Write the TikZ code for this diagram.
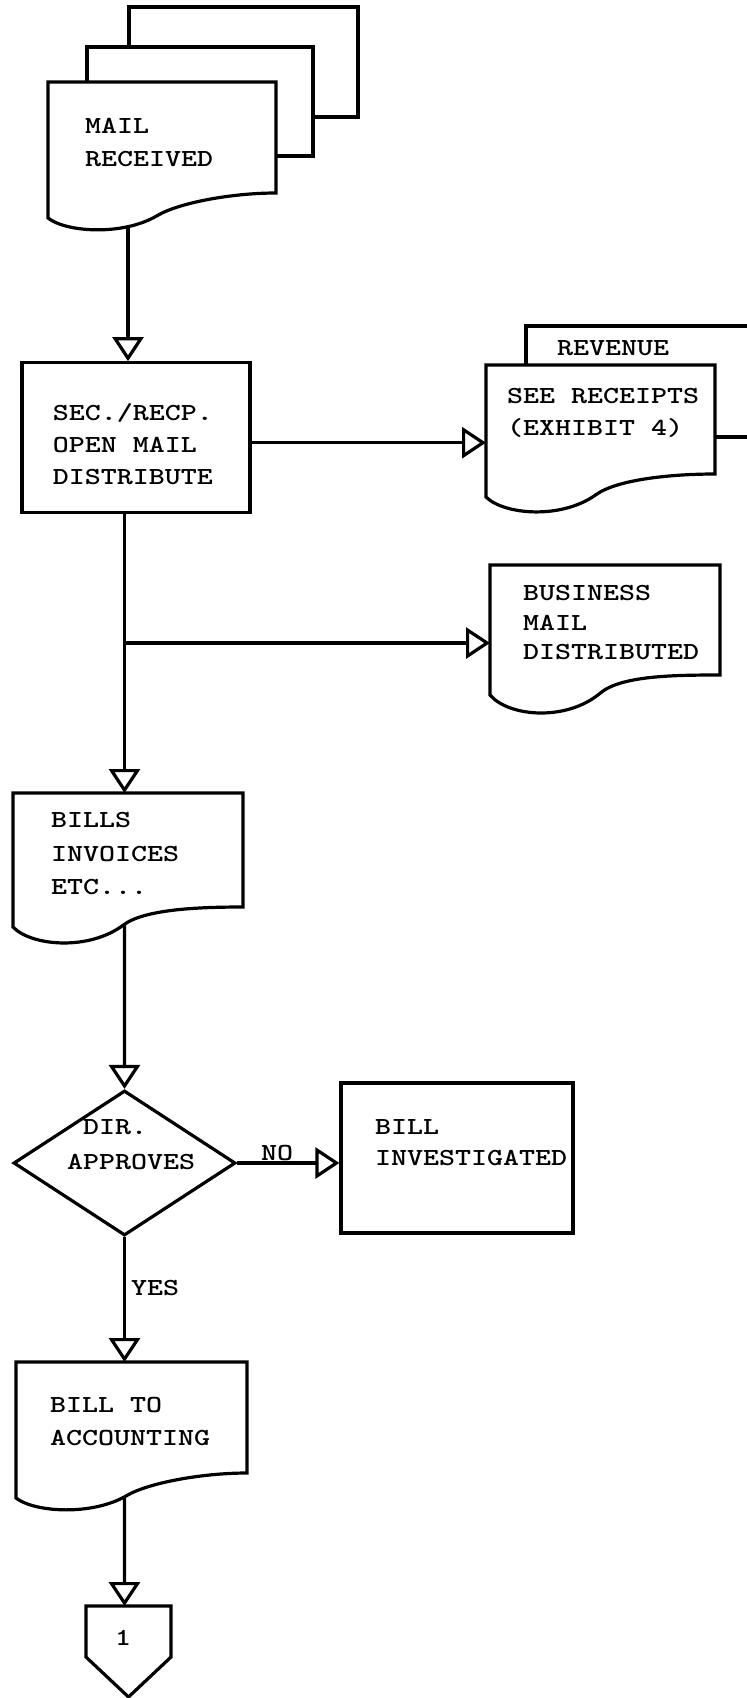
\documentclass[tikz,border=0pt]{standalone}
\usetikzlibrary{arrows.meta,shapes.geometric,intersections}

% typewriter text block, first baseline at the node's base; #1 = line spacing
\newcommand\twtext[2]{\scalebox{1.244}[1]{\fontsize{24.5}{#1}\selectfont\ttfamily\bfseries\begin{tabular}[t]{@{}l@{}}#2\end{tabular}}}

% document symbol: flat top, wavy bottom
% #1 left, #2 top, #3 right, #4 right-bottom y, #5 left-bottom y, #6 trough depth, #7 path name
\newcommand\docshape[7]{%
  \draw[outline,name path=#7] (#1,#2) -- (#3,#2) -- (#3,#4)
    .. controls ({#1+0.8*(#3-#1)},#4) and ({#1+0.57*(#3-#1)},{#5-0.1*(#5-#4)-0.6*(0.1*(#5-#4)+1.5*#6)})
    .. ({#1+0.48*(#3-#1)},{#5-0.1*(#5-#4)})
    .. controls ({#1+0.33*(#3-#1)},{#5+1.5*#6}) and ({#1+0.08*(#3-#1)},{#5+1.2*#6})
    .. (#1,#5) -- cycle;}

\begin{document}
\begin{tikzpicture}[x=1pt,y=-1pt,
  outline/.style={line width=3.2pt},
  boxnode/.style={draw,line width=3.2pt,inner sep=0pt},
  flow/.style={line width=3.2pt,-{Triangle[open,length=24pt,width=31pt]}},
  txt/.style={inner sep=0pt,anchor=base west}]
\useasboundingbox (0,0) rectangle (747,1698);

% incoming mail: stacked pages
\draw[outline] (129,47) -- (129,7) -- (358,7) -- (358,117) -- (313,117);
\draw[outline] (87,82) -- (87,47) -- (313,47) -- (313,156) -- (276,156);
\docshape{48}{82}{276}{193}{218}{12}{mail}
\node[txt] (mailtxt) at (85,133.5) {\twtext{33}{MAIL\\RECEIVED}};

% secretary / receptionist
\node[boxnode,minimum width=228pt,minimum height=150pt] (sec) at (136,437.7) {};
\node[txt] (sectxt) at (52.7,420.2) {\twtext{32.3}{SEC./RECP.\\OPEN MAIL\\DISTRIBUTE}};

% revenue documents
\draw[outline] (526,365) -- (526,326) -- (747,326);
\draw[outline] (715,437) -- (747,437);
\node[txt] (revtxt) at (557,355.5) {\twtext{33}{REVENUE}};
\docshape{486}{365}{715}{474}{497}{15}{rcpt}
\node[txt] (rcpttxt) at (507,403.5) {\twtext{32}{SEE RECEIPTS\\(EXHIBIT 4)}};

% business mail
\docshape{490}{565}{720}{675}{695}{18}{biz}
\node[txt] (biztxt) at (523,600.5) {\twtext{29.5}{BUSINESS\\MAIL\\DISTRIBUTED}};

% bills
\docshape{13}{793}{243}{907}{927}{16}{bills}
\node[txt] (billstxt) at (51,827.5) {\twtext{33.5}{BILLS\\INVOICES\\ETC...}};

% approval decision
\node[draw,line width=3.2pt,shape=diamond,inner sep=0pt,minimum width=222pt,minimum height=145pt] (dia) at (124.5,1163) {};
\node[txt] (diatxt) at (67,1134.5) {\twtext{35}{\hphantom{D}DIR.\\APPROVES}};
\node[boxnode,minimum width=232pt,minimum height=150pt] (inv) at (457,1158) {};
\node[txt] (invtxt) at (375,1134.5) {\twtext{31}{BILL\\INVESTIGATED}};

% to accounting
\docshape{16}{1362}{247}{1473}{1498}{12}{acct}
\node[txt] (accttxt) at (50,1412.5) {\twtext{33}{BILL TO\\ACCOUNTING}};

% off-page connector
\draw[outline] (86,1606) -- (171,1606) -- (171,1657) -- (128.5,1697) -- (86,1657) -- cycle;
\coordinate (offtop) at (124.5,1606);
\node[inner sep=0pt,anchor=base] (onetxt) at (123,1645.5) {\twtext{33}{1}};

% connection points on the document outlines
\path[name path=v1] (128,0) -- (128,400);
\path[name intersections={of=v1 and mail,sort by=v1,by={d1top,d1bot}}];
\path[name path=v4] (124.5,700) -- (124.5,1000);
\path[name intersections={of=v4 and bills,sort by=v4,by={d4top,d4bot}}];
\path[name path=v5] (124.5,1300) -- (124.5,1600);
\path[name intersections={of=v5 and acct,sort by=v5,by={d5top,d5bot}}];

% flow lines
\draw[flow] (d1bot) -- (d1bot |- sec.north);
\coordinate (rcptin) at (486,442.7);
\draw[flow] (sec.east |- rcptin) -- (rcptin);
\draw[flow] (sec.south -| d4top) -- (d4top);
\coordinate (split) at (124.5,643);
\coordinate (bizin) at (490,643);
\draw[flow] (split) -- (bizin);
\draw[flow] (d4bot) -- (dia.north);
\draw[flow] (dia.east) -- (inv.west |- dia.east);
\node[txt] (notxt) at (261,1160.5) {\twtext{33}{NO}};
\draw[flow] (dia.south) -- (d5top);
\node[txt] (yestxt) at (131,1295.5) {\twtext{33}{YES}};
\draw[flow] (d5bot) -- (offtop);
\end{tikzpicture}
\end{document}
